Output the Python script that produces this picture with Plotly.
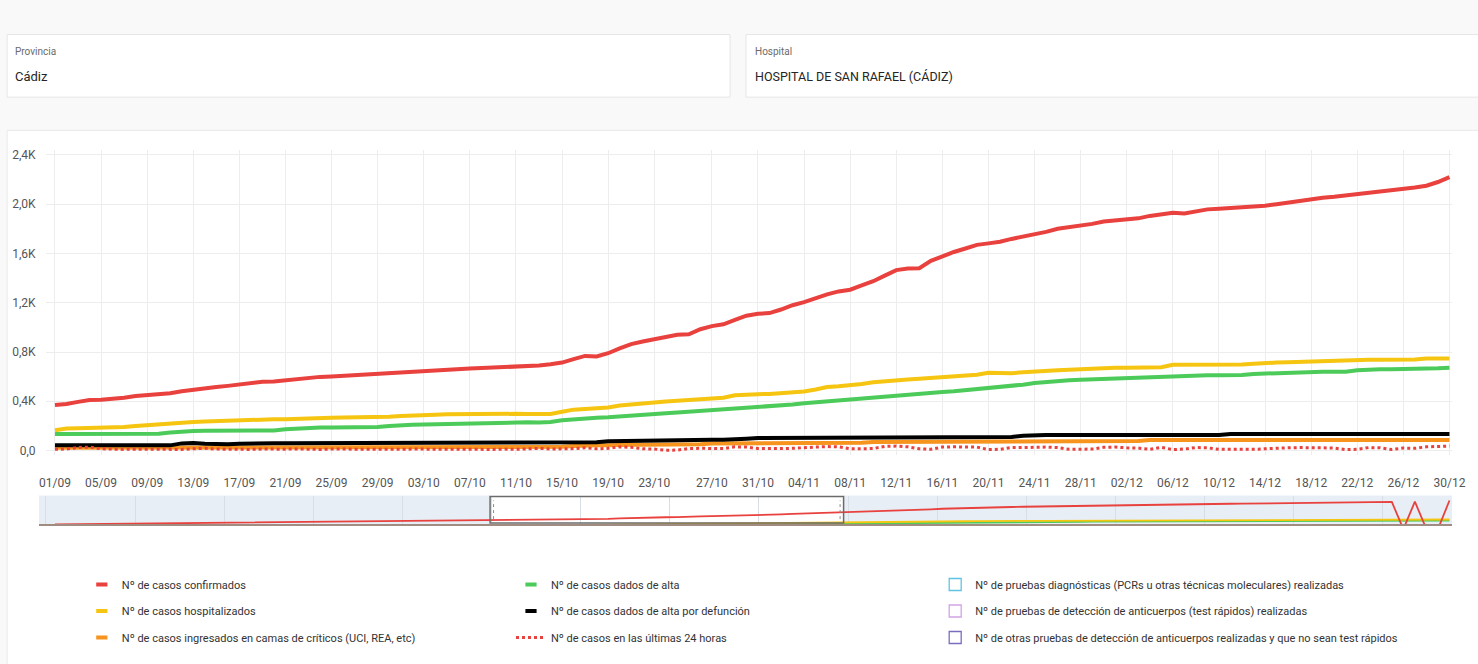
import plotly.graph_objects as go

# ---------------- data ----------------
dates = [
    "01/09", "02/09", "03/09", "04/09", "05/09", "06/09", "07/09", "08/09", "09/09", "10/09",
    "11/09", "12/09", "13/09", "14/09", "15/09", "16/09", "17/09", "18/09", "19/09", "20/09",
    "21/09", "22/09", "23/09", "24/09", "25/09", "26/09", "27/09", "28/09", "29/09", "30/09",
    "01/10", "02/10", "03/10", "04/10", "05/10", "06/10", "07/10", "08/10", "09/10", "10/10",
    "11/10", "12/10", "13/10", "14/10", "15/10", "16/10", "17/10", "18/10", "19/10", "20/10",
    "21/10", "22/10", "23/10", "24/10", "25/10", "25/10", "26/10", "27/10", "28/10", "29/10",
    "30/10", "31/10", "01/11", "02/11", "03/11", "04/11", "05/11", "06/11", "07/11", "08/11",
    "09/11", "10/11", "11/11", "12/11", "13/11", "14/11", "15/11", "16/11", "17/11", "18/11",
    "19/11", "20/11", "21/11", "22/11", "23/11", "24/11", "25/11", "26/11", "27/11", "28/11",
    "29/11", "30/11", "01/12", "02/12", "03/12", "04/12", "05/12", "06/12", "07/12", "08/12",
    "09/12", "10/12", "11/12", "12/12", "13/12", "14/12", "15/12", "16/12", "17/12", "18/12",
    "19/12", "20/12", "21/12", "22/12", "23/12", "24/12", "25/12", "26/12", "27/12", "28/12",
    "29/12", "30/12",
]

tick_labels = [
    "01/09", "05/09", "09/09", "13/09", "17/09", "21/09", "25/09", "29/09", "03/10", "07/10",
    "11/10", "15/10", "19/10", "23/10", "27/10", "31/10", "04/11", "08/11", "12/11", "16/11",
    "20/11", "24/11", "28/11", "02/12", "06/12", "10/12", "14/12", "18/12", "22/12", "26/12",
    "30/12",
]

y_tick_vals = [0, 400, 800, 1200, 1600, 2000, 2400]
y_tick_text = ["0,0", "0,4K", "0,8K", "1,2K", "1,6K", "2,0K", "2,4K"]

confirmados = [
    370, 378, 395, 410, 412, 418, 428, 442, 450, 453,
    465, 482, 495, 503, 515, 525, 536, 552, 559, 560,
    570, 585, 592, 598, 602, 608, 615, 618, 622, 630,
    638, 642, 645, 650, 656, 662, 667, 670, 674, 677,
    679, 684, 690, 700, 714, 742, 768, 764, 790, 830,
    864, 885, 905, 925, 940, 944, 985, 1010, 1025, 1060,
    1095, 1110, 1116, 1145, 1180, 1205, 1240, 1268, 1292, 1306,
    1340, 1375, 1420, 1465, 1478, 1480, 1540, 1580, 1612, 1640,
    1670, 1682, 1695, 1718, 1735, 1750, 1775, 1800, 1812, 1822,
    1840, 1860, 1870, 1878, 1885, 1905, 1920, 1930, 1925, 1945,
    1958, 1964, 1968, 1975, 1982, 1988, 2000, 2015, 2030, 2045,
    2052, 2060, 2070, 2078, 2090, 2100, 2110, 2122, 2135, 2150,
    2180, 2220,
]

hospitalizados = [
    165, 178, 180, 182, 185, 188, 192, 200, 208, 215,
    222, 228, 232, 236, 240, 245, 248, 252, 254, 254,
    254, 255, 256, 258, 266, 268, 268, 268, 268, 274,
    280, 281, 282, 290, 294, 296, 298, 300, 300, 300,
    298, 296, 295, 296, 315, 332, 338, 342, 350, 366,
    376, 384, 390, 398, 404, 408, 414, 422, 428, 448,
    455, 458, 460, 466, 474, 480, 496, 516, 522, 528,
    540, 555, 565, 570, 577, 583, 590, 595, 605, 612,
    616, 632, 630, 628, 636, 644, 648, 652, 656, 662,
    666, 670, 672, 673, 673, 674, 676, 696, 696, 694,
    696, 698, 698, 698, 705, 712, 714, 716, 720, 722,
    724, 730, 736, 737, 737, 737, 737, 737, 740, 748,
    750, 748,
]

alta = [
    135, 135, 135, 134, 134, 135, 135, 135, 135, 136,
    146, 155, 158, 160, 161, 161, 161, 161, 162, 163,
    172, 180, 186, 188, 188, 188, 189, 190, 192, 200,
    208, 210, 212, 214, 216, 218, 220, 222, 230, 232,
    230, 229, 228, 232, 245, 254, 262, 266, 270, 278,
    284, 290, 296, 302, 308, 314, 320, 326, 332, 338,
    344, 350, 356, 364, 374, 384, 392, 400, 406, 414,
    424, 432, 442, 452, 460, 466, 472, 476, 482, 490,
    496, 510, 516, 522, 535, 548, 558, 566, 570, 574,
    578, 582, 584, 586, 590, 594, 598, 602, 605, 608,
    611, 612, 612, 613, 622, 626, 626, 630, 638, 639,
    639, 639, 640, 652, 660, 660, 660, 660, 660, 662,
    668, 673,
]

defuncion = [
    42, 42, 42, 42, 42, 42, 42, 42, 42, 42,
    42, 58, 62, 55, 52, 52, 56, 60, 60, 60,
    60, 60, 60, 60, 60, 60, 60, 60, 60, 60,
    60, 60, 60, 60, 60, 60, 60, 60, 60, 60,
    60, 60, 60, 60, 60, 60, 60, 68, 76, 78,
    78, 78, 78, 82, 86, 88, 88, 88, 88, 88,
    96, 102, 102, 102, 102, 102, 102, 102, 102, 102,
    102, 108, 110, 110, 110, 110, 110, 110, 110, 110,
    110, 110, 110, 110, 120, 126, 126, 126, 126, 126,
    126, 126, 126, 126, 126, 126, 126, 126, 126, 126,
    126, 126, 135, 135, 135, 135, 135, 135, 135, 135,
    135, 135, 135, 135, 135, 135, 135, 135, 135, 135,
    135, 135,
]

criticos = [
    22, 22, 22, 22, 22, 22, 22, 22, 22, 22,
    22, 24, 24, 24, 24, 24, 24, 24, 24, 24,
    24, 26, 26, 26, 26, 26, 26, 26, 26, 26,
    26, 26, 26, 26, 26, 26, 30, 30, 30, 30,
    30, 30, 30, 30, 30, 36, 42, 42, 42, 48,
    48, 48, 48, 52, 52, 52, 52, 58, 58, 58,
    58, 58, 58, 64, 64, 64, 64, 64, 64, 64,
    64, 70, 70, 70, 70, 70, 70, 70, 70, 70,
    70, 70, 70, 70, 70, 70, 70, 70, 70, 70,
    70, 70, 70, 70, 78, 86, 86, 86, 86, 86,
    86, 86, 86, 86, 86, 86, 86, 86, 86, 86,
    86, 86, 86, 86, 86, 86, 86, 86, 86, 86,
    86, 86,
]

ultimas_24h = [
    10, 12, 25, 28, 14, 10, 9, 11, 10, 12,
    11, 9, 14, 18, 12, 10, 11, 9, 12, 10,
    11, 13, 10, 9, 12, 11, 10, 12, 9, 11,
    10, 12, 11, 9, 10, 12, 11, 10, 9, 12,
    10, 14, 18, 12, 11, 16, 22, 14, 18, 30,
    26, 14, 12, 2, 4, 16, 18, 20, 16, 30,
    28, 16, 14, 16, 18, 20, 28, 32, 30, 14,
    12, 16, 34, 36, 30, 14, 10, 28, 30, 32,
    28, 8, 10, 24, 28, 26, 28, 24, 10, 8,
    12, 26, 28, 22, 20, 10, 26, 8, 12, 24,
    22, 10, 8, 8, 10, 14, 20, 22, 24, 26,
    22, 20, 8, 10, 24, 22, 8, 20, 18, 30,
    34, 36,
]

# dates where the overview (range strip) series of confirmed cases drops to 0
huecos_resumen = ["26/12", "28/12", "29/12"]

# ---------------- styling ----------------
W, H = 1478, 664
ML, MR, MT, MB = 37, 22, 150, 132
PW = W - ML - MR
PH = H - MT - MB
FONT = "Roboto, Liberation Sans, sans-serif"

C_RED = "#E8413E"
C_YEL = "#F5C511"
C_GRN = "#4CCB5B"
C_BLK = "#000000"
C_ORA = "#F7941D"


def px_x(px):
    return (px - ML) / PW


def px_y(py):
    return (H - MB - py) / PH


x_idx = list(range(len(dates)))
tick_vals = [dates.index(t) for t in tick_labels]

fig = go.Figure()

for name, vals, col in [
    ("Nº de casos ingresados en camas de críticos (UCI, REA, etc)", criticos, C_ORA),
    ("Nº de casos dados de alta por defunción", defuncion, C_BLK),
]:
    fig.add_trace(go.Scatter(x=x_idx, y=vals, mode="lines", name=name, text=dates,
                             line=dict(color=col, width=4), showlegend=False,
                             xaxis="x", yaxis="y"))

fig.add_trace(go.Scatter(x=x_idx, y=ultimas_24h, mode="lines", text=dates,
                         name="Nº de casos en las últimas 24 horas",
                         line=dict(color=C_RED, width=3, dash="dot"),
                         legend="legend2", legendgroup="g6", legendrank=3,
                         showlegend=True, xaxis="x", yaxis="y"))

for name, vals, col in [
    ("Nº de casos dados de alta", alta, C_GRN),
    ("Nº de casos hospitalizados", hospitalizados, C_YEL),
    ("Nº de casos confirmados", confirmados, C_RED),
]:
    fig.add_trace(go.Scatter(x=x_idx, y=vals, mode="lines", name=name, text=dates,
                             line=dict(color=col, width=4), showlegend=False,
                             xaxis="x", yaxis="y"))

# overview strip (range navigator)
resumen_confirmados = [0 if d in huecos_resumen else v for d, v in zip(dates, confirmados)]
for vals, col in [(criticos, C_ORA), (defuncion, C_BLK), (alta, C_GRN),
                  (hospitalizados, C_YEL), (resumen_confirmados, C_RED)]:
    fig.add_trace(go.Scatter(x=x_idx, y=vals, mode="lines", line=dict(color=col, width=1.8),
                             showlegend=False, hoverinfo="skip", xaxis="x2", yaxis="y2"))

# legend entries (three columns)
legend_items = [
    ("Nº de casos confirmados", C_RED, "legend", 1, "line"),
    ("Nº de casos hospitalizados", C_YEL, "legend", 2, "line"),
    ("Nº de casos ingresados en camas de críticos (UCI, REA, etc)", C_ORA, "legend", 3, "line"),
    ("Nº de casos dados de alta", C_GRN, "legend2", 1, "line"),
    ("Nº de casos dados de alta por defunción", C_BLK, "legend2", 2, "line"),
    ("Nº de pruebas diagnósticas (PCRs u otras técnicas moleculares) realizadas", "#5FC3E4", "legend3", 1, "box"),
    ("Nº de pruebas de detección de anticuerpos (test rápidos) realizadas", "#D4A3E6", "legend3", 2, "box"),
    ("Nº de otras pruebas de detección de anticuerpos realizadas y que no sean test rápidos", "#7B6CC0", "legend3", 3, "box"),
]
for i, (name, col, leg, rank, kind) in enumerate(legend_items):
    if kind == "line":
        marker = dict(symbol="line-ew", size=8, line=dict(color=col, width=4))
    else:
        marker = dict(symbol="square-open", size=12, color=col, line=dict(color=col, width=1.3))
    fig.add_trace(go.Scatter(x=[None], y=[None], mode="markers", name=name, marker=marker,
                             legend=leg, legendgroup="g%d" % i, legendrank=rank,
                             showlegend=True, xaxis="x", yaxis="y"))

# ---------------- page decoration ----------------
shapes = []
shapes.append(dict(type="rect", xref="paper", yref="paper",
                   x0=px_x(5), x1=px_x(731), y0=px_y(96), y1=px_y(32),
                   fillcolor="white", line=dict(color="#E6E6E6", width=1), layer="below"))
shapes.append(dict(type="rect", xref="paper", yref="paper",
                   x0=px_x(747), x1=px_x(1490), y0=px_y(96), y1=px_y(32),
                   fillcolor="white", line=dict(color="#E6E6E6", width=1), layer="below"))
shapes.append(dict(type="rect", xref="paper", yref="paper",
                   x0=px_x(5), x1=px_x(1490), y0=px_y(700), y1=px_y(130),
                   fillcolor="white", line=dict(color="#E9E9E9", width=1), layer="below"))
shapes.append(dict(type="rect", xref="paper", yref="paper",
                   x0=px_x(37), x1=px_x(490), y0=px_y(532), y1=px_y(503),
                   fillcolor="#E7EEF5", line=dict(width=0), layer="below"))
shapes.append(dict(type="rect", xref="paper", yref="paper",
                   x0=px_x(845), x1=px_x(1456), y0=px_y(532), y1=px_y(503),
                   fillcolor="#E7EEF5", line=dict(width=0), layer="below"))
shapes.append(dict(type="rect", xref="paper", yref="paper",
                   x0=px_x(490), x1=px_x(845), y0=px_y(531), y1=px_y(504),
                   fillcolor="rgba(0,0,0,0)", line=dict(color="#6B6B6B", width=1.5), layer="above"))
for hx in (493.5, 841.5):
    shapes.append(dict(type="line", xref="paper", yref="paper",
                       x0=px_x(hx), x1=px_x(hx), y0=px_y(527), y1=px_y(508),
                       line=dict(color="#8A8A8A", width=1, dash="dot"), layer="above"))

annotations = [
    dict(text="Provincia", x=px_x(11), y=px_y(49), xref="paper", yref="paper",
         xanchor="left", yanchor="middle", showarrow=False,
         font=dict(family=FONT, size=10, color="#6B6B6B")),
    dict(text="Cádiz", x=px_x(11), y=px_y(75), xref="paper", yref="paper",
         xanchor="left", yanchor="middle", showarrow=False,
         font=dict(family=FONT, size=13, color="#252525")),
    dict(text="Hospital", x=px_x(754), y=px_y(49), xref="paper", yref="paper",
         xanchor="left", yanchor="middle", showarrow=False,
         font=dict(family=FONT, size=10, color="#6B6B6B")),
    dict(text="HOSPITAL DE SAN RAFAEL (CÁDIZ)", x=px_x(754), y=px_y(75), xref="paper", yref="paper",
         xanchor="left", yanchor="middle", showarrow=False,
         font=dict(family=FONT, size=12.5, color="#252525")),
]

legend_common = dict(orientation="v", xanchor="left", yanchor="top", tracegroupgap=7.5,
                     font=dict(family=FONT, size=11, color="#333333"),
                     bgcolor="rgba(0,0,0,0)", itemclick=False, itemdoubleclick=False)

fig.update_layout(
    width=W, height=H,
    margin=dict(l=ML, r=MR, t=MT, b=MB, pad=0),
    paper_bgcolor="#F9F9F9",
    plot_bgcolor="rgba(0,0,0,0)",
    font=dict(family=FONT, size=12, color="#555555"),
    shapes=shapes,
    annotations=annotations,
    hovermode="x",
    xaxis=dict(domain=[px_x(44), 1], range=[-0.78, 121.22], tickmode="array",
               tickvals=tick_vals, ticktext=tick_labels, showgrid=True, gridcolor="#EDEDED",
               gridwidth=1, zeroline=False, showline=False, ticks="outside", ticklen=16,
               tickcolor="rgba(0,0,0,0)", tickfont=dict(family=FONT, size=12, color="#555555"),
               anchor="y", fixedrange=True),
    yaxis=dict(domain=[px_y(462), 1], range=[-40, 2440], tickmode="array",
               tickvals=y_tick_vals, ticktext=y_tick_text, showgrid=True, gridcolor="#EDEDED",
               gridwidth=1, zeroline=False, showline=False, ticks="outside", ticklen=7,
               tickcolor="rgba(0,0,0,0)", tickfont=dict(family=FONT, size=12, color="#555555"),
               anchor="x", fixedrange=True),
    xaxis2=dict(domain=[0, 1], range=[-1.38, 121.22], tick0=-0.78, dtick=89.5 / 11.574,
                showticklabels=False, showgrid=True, gridcolor="#D8DEE5", zeroline=False,
                showline=True, linecolor="#A08C80", linewidth=2, anchor="y2", fixedrange=True),
    yaxis2=dict(domain=[0, px_y(503)], range=[400, 2600], showticklabels=False,
                showgrid=False, zeroline=False, anchor="x2", fixedrange=True),
    legend=dict(x=px_x(80), y=px_y(579), **legend_common),
    legend2=dict(x=px_x(511), y=px_y(579), **legend_common),
    legend3=dict(x=px_x(937), y=px_y(579), **legend_common),
)

fig.write_html("out.html", config={"displayModeBar": False},
               post_script="document.body.style.margin='0px';")
